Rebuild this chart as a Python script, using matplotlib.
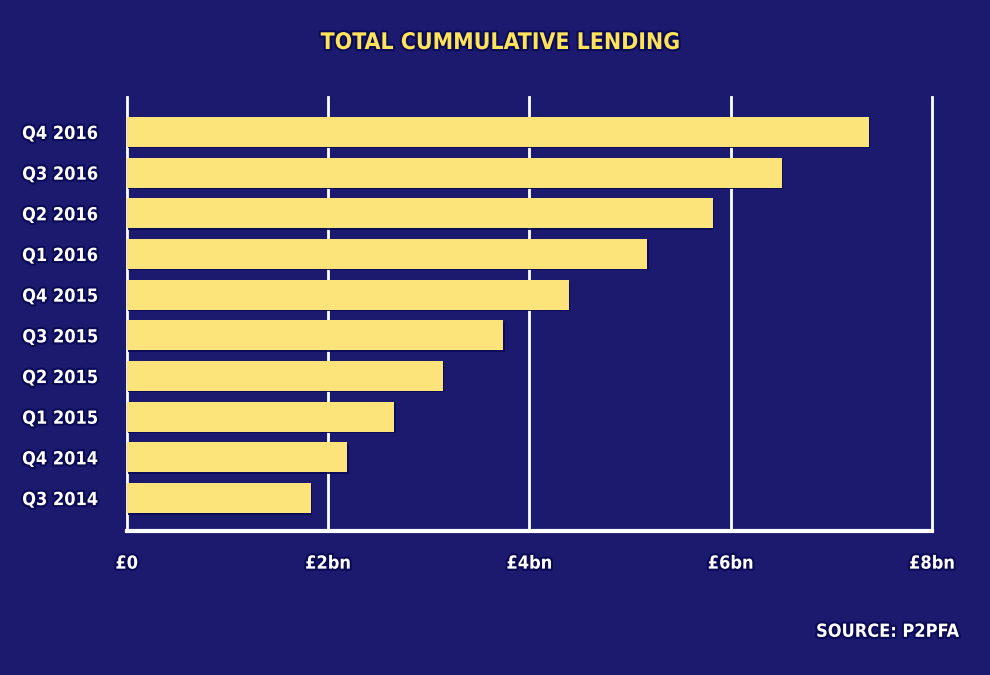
import matplotlib
matplotlib.use('Agg')
import matplotlib.pyplot as plt
import matplotlib.patheffects as pe

############################### Data ###########################################
quarters = ['Q3 2014', 'Q4 2014', 'Q1 2015', 'Q2 2015', 'Q3 2015',
            'Q4 2015', 'Q1 2016', 'Q2 2016', 'Q3 2016', 'Q4 2016']
lending_bn = [1.83, 2.19, 2.66, 3.14, 3.74, 4.39, 5.17, 5.82, 6.51, 7.37]
tick_values = [0, 2, 4, 6, 8]
tick_labels = ['£0', '£2bn', '£4bn', '£6bn', '£8bn']

############################### Styles #########################################
BG = '#1c1a6e'
BAR = '#fde47a'
TITLE_COL = '#fde35a'
WHITE = '#ffffff'
FONT = ['Liberation Sans Narrow', 'DejaVu Sans']
plt.rcParams['font.family'] = FONT
plt.rcParams['font.stretch'] = 'condensed'

shadow = [pe.withStroke(linewidth=3, foreground='#0a0a55')]

fig = plt.figure(figsize=(9.9, 6.75), dpi=100, facecolor=BG)
ax = fig.add_axes([0.128, 0.2133, 0.8134, 0.643])
ax.set_facecolor(BG)

ypos = list(range(len(quarters)))
ax.barh(ypos, lending_bn, height=0.74, color=BAR, zorder=3,
        path_effects=[pe.withSimplePatchShadow(offset=(1, -1), shadow_rgbFace='#0a0a55', alpha=0.9), pe.Normal()])

ax.set_xlim(0, 8)
ax.set_ylim(-0.81, len(quarters) - 1 + 0.86)

# vertical grid lines
for v in tick_values:
    ax.axvline(v, color=WHITE, lw=2, zorder=1, clip_on=False)

for s in ['top', 'right', 'left']:
    ax.spines[s].set_visible(False)
ax.spines['bottom'].set_color(WHITE)
ax.spines['bottom'].set_linewidth(3)
ax.spines['bottom'].set_zorder(4)

ax.set_xticks(tick_values)
ax.set_xticklabels(tick_labels)
ax.set_yticks(ypos)
ax.set_yticklabels(quarters)
ax.tick_params(axis='both', length=0, colors=WHITE, labelsize=13)
ax.tick_params(axis='x', pad=17)
ax.tick_params(axis='y', pad=21)
for lab in ax.get_xticklabels() + ax.get_yticklabels():
    lab.set_fontweight('bold')
    lab.set_fontstretch('condensed')
    lab.set_path_effects(shadow)

fig.text(0.505, 0.937, 'TOTAL CUMMULATIVE LENDING', color=TITLE_COL, fontsize=16.5,
         fontweight='bold', fontstretch='condensed', ha='center', va='center',
         path_effects=shadow)
fig.text(0.968, 0.064, 'SOURCE: P2PFA', color=WHITE, fontsize=13,
         fontweight='bold', fontstretch='condensed', ha='right', va='center',
         path_effects=shadow)

fig.savefig('out.png', dpi=100, facecolor=BG)
